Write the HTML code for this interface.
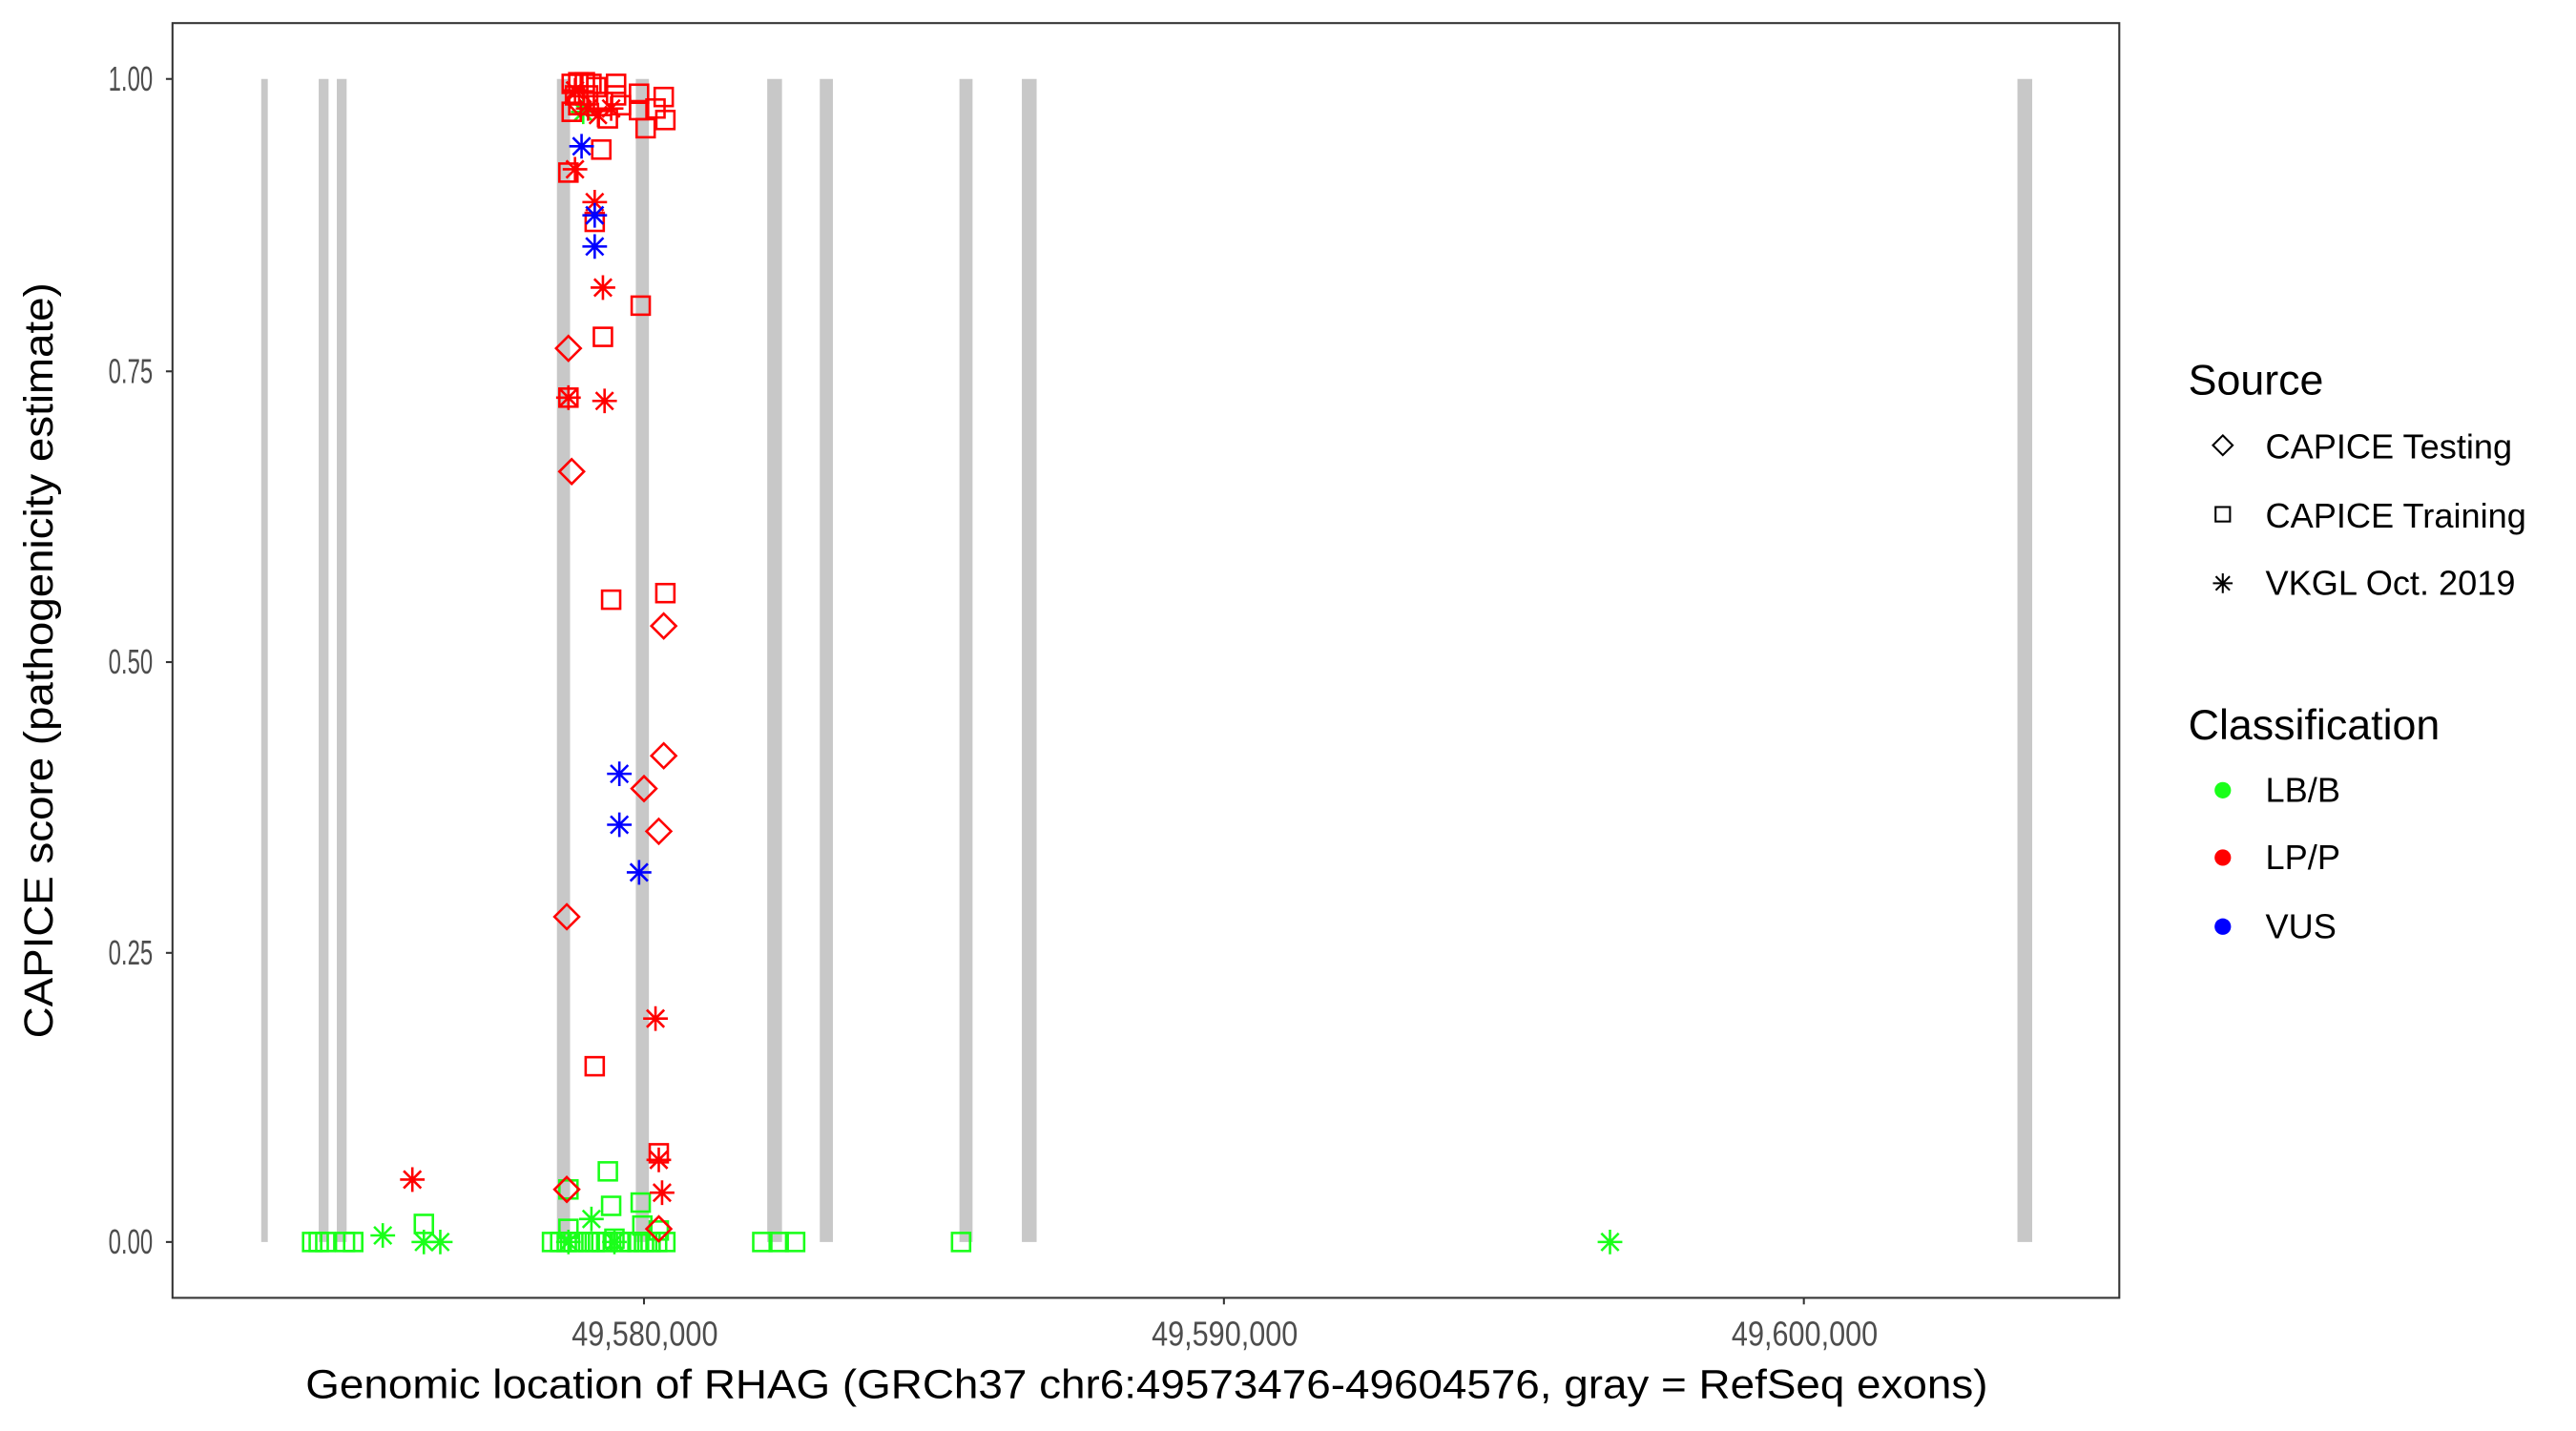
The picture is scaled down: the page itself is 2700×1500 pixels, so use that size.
<!DOCTYPE html>
<html><head><meta charset="utf-8"><style>
html,body{margin:0;padding:0;background:#fff}
svg{display:block}
text{font-family:"Liberation Sans",Arial,sans-serif}
</style></head><body>
<svg width="2700" height="1500" viewBox="0 0 1568 871" xmlns="http://www.w3.org/2000/svg">
<defs>
<g id="sq"><rect x="-5.5" y="-5.5" width="11" height="11" fill="none" stroke-width="1.5"/></g>
<g id="di"><path d="M0,-7.5 L7.5,0 L0,7.5 L-7.5,0 Z" fill="none" stroke-width="1.5"/></g>
<g id="st" stroke-width="1.5"><path d="M0,-7.5V7.5M-7.5,0H7.5M-5.3,-5.3L5.3,5.3M-5.3,5.3L5.3,-5.3"/></g>
</defs>
<rect x="0" y="0" width="1568" height="871" fill="#fff"/>
<g fill="#c8c8c8">
<rect x="159" y="48" width="4" height="708"/>
<rect x="194" y="48" width="6" height="708"/>
<rect x="205" y="48" width="6" height="708"/>
<rect x="339" y="48" width="8" height="708"/>
<rect x="387" y="48" width="8" height="708"/>
<rect x="467" y="48" width="9" height="708"/>
<rect x="499" y="48" width="8" height="708"/>
<rect x="584" y="48" width="8" height="708"/>
<rect x="622" y="48" width="9" height="708"/>
<rect x="1228" y="48" width="9" height="708"/>
</g>
<g stroke="#1aff1a">
<use href="#sq" x="190" y="756"/><use href="#sq" x="194" y="756"/><use href="#sq" x="198" y="756"/><use href="#sq" x="210" y="756"/><use href="#sq" x="215" y="756"/><use href="#sq" x="258" y="745"/>
<use href="#sq" x="336" y="756"/><use href="#sq" x="341" y="756"/><use href="#sq" x="345" y="756"/><use href="#sq" x="349" y="756"/><use href="#sq" x="353" y="756"/><use href="#sq" x="358" y="756"/><use href="#sq" x="362" y="756"/><use href="#sq" x="366" y="756"/><use href="#sq" x="370" y="756"/><use href="#sq" x="374" y="754"/><use href="#sq" x="378" y="756"/><use href="#sq" x="383" y="756"/><use href="#sq" x="388" y="756"/><use href="#sq" x="392" y="756"/><use href="#sq" x="396" y="756"/><use href="#sq" x="400" y="756"/><use href="#sq" x="405" y="756"/>
<use href="#sq" x="346" y="748"/><use href="#sq" x="346" y="724"/><use href="#sq" x="370" y="713"/><use href="#sq" x="372" y="734"/><use href="#sq" x="390" y="732"/><use href="#sq" x="391" y="746"/><use href="#sq" x="401" y="749"/>
<use href="#sq" x="464" y="756"/><use href="#sq" x="474" y="756"/><use href="#sq" x="484" y="756"/><use href="#sq" x="585" y="756"/>
<use href="#st" x="233" y="752"/><use href="#st" x="258" y="756"/><use href="#st" x="268" y="756"/><use href="#st" x="360" y="742"/><use href="#st" x="346" y="756"/><use href="#st" x="374" y="756"/><use href="#st" x="980" y="756"/><use href="#st" x="355" y="68"/>
</g>
<g stroke="#ff0000">
<use href="#sq" x="348" y="51"/><use href="#sq" x="352" y="50"/><use href="#sq" x="356" y="50"/><use href="#sq" x="360" y="51"/><use href="#sq" x="363" y="53"/><use href="#sq" x="375" y="51"/><use href="#sq" x="375" y="58"/><use href="#sq" x="389" y="57"/><use href="#sq" x="404" y="59"/><use href="#sq" x="399" y="66"/><use href="#sq" x="405" y="73"/><use href="#sq" x="393" y="78"/><use href="#sq" x="389" y="67"/><use href="#sq" x="378" y="64"/><use href="#sq" x="370" y="72"/><use href="#sq" x="367" y="62"/><use href="#sq" x="352" y="64"/><use href="#sq" x="348" y="68"/><use href="#sq" x="358" y="58"/><use href="#sq" x="350" y="58"/>
<use href="#sq" x="366" y="91"/><use href="#sq" x="346" y="105"/><use href="#sq" x="362" y="135"/><use href="#sq" x="390" y="186"/><use href="#sq" x="367" y="205"/><use href="#sq" x="346" y="242"/><use href="#sq" x="372" y="365"/><use href="#sq" x="405" y="361"/><use href="#sq" x="362" y="649"/><use href="#sq" x="401" y="702"/>
<use href="#di" x="346" y="212"/><use href="#di" x="348" y="287"/><use href="#di" x="404" y="381"/><use href="#di" x="404" y="460"/><use href="#di" x="392" y="480"/><use href="#di" x="401" y="506"/><use href="#di" x="345" y="558"/><use href="#di" x="345" y="724"/><use href="#di" x="401" y="748"/><use href="#di" x="352" y="62"/>
<use href="#st" x="350" y="103"/><use href="#st" x="362" y="123"/><use href="#st" x="367" y="175"/><use href="#st" x="346" y="242"/><use href="#st" x="368" y="244"/><use href="#st" x="251" y="718"/><use href="#st" x="399" y="620"/><use href="#st" x="401" y="706"/><use href="#st" x="403" y="726"/><use href="#st" x="358" y="66"/><use href="#st" x="372" y="66"/><use href="#st" x="350" y="55"/><use href="#st" x="364" y="70"/>
</g>
<g stroke="#0000ff">
<use href="#st" x="354" y="89"/><use href="#st" x="362" y="131"/><use href="#st" x="362" y="150"/><use href="#st" x="377" y="471"/><use href="#st" x="377" y="502"/><use href="#st" x="389" y="531"/>
</g>
<rect x="105" y="14" width="1185" height="776" fill="none" stroke="#333" stroke-width="1.2"/>
<g stroke="#333" stroke-width="1.2">
<line x1="101" y1="48" x2="105" y2="48"/><line x1="101" y1="226" x2="105" y2="226"/><line x1="101" y1="403" x2="105" y2="403"/><line x1="101" y1="580" x2="105" y2="580"/><line x1="101" y1="756" x2="105" y2="756"/>
<line x1="392" y1="790" x2="392" y2="794"/><line x1="745" y1="790" x2="745" y2="794"/><line x1="1098" y1="790" x2="1098" y2="794"/>
</g>
<g font-size="21" fill="#4d4d4d" text-anchor="end">
<text x="93" y="55" textLength="27" lengthAdjust="spacingAndGlyphs">1.00</text><text x="93" y="233" textLength="27" lengthAdjust="spacingAndGlyphs">0.75</text><text x="93" y="410" textLength="27" lengthAdjust="spacingAndGlyphs">0.50</text><text x="93" y="587" textLength="27" lengthAdjust="spacingAndGlyphs">0.25</text><text x="93" y="763" textLength="27" lengthAdjust="spacingAndGlyphs">0.00</text>
</g>
<g font-size="21" fill="#4d4d4d">
<text x="348" y="819" textLength="89" lengthAdjust="spacingAndGlyphs">49,580,000</text><text x="701" y="819" textLength="89" lengthAdjust="spacingAndGlyphs">49,590,000</text><text x="1054" y="819" textLength="89" lengthAdjust="spacingAndGlyphs">49,600,000</text>
</g>
<text x="698" y="851" font-size="25" text-anchor="middle" fill="#000" textLength="1024" lengthAdjust="spacingAndGlyphs">Genomic location of RHAG (GRCh37 chr6:49573476-49604576, gray = RefSeq exons)</text>
<text transform="translate(32,402) rotate(-90)" font-size="25" text-anchor="middle" fill="#000" textLength="460" lengthAdjust="spacingAndGlyphs">CAPICE score (pathogenicity estimate)</text>
<text x="1332" y="240" font-size="26" fill="#000">Source</text>
<g stroke="#000" transform="translate(1353,271) scale(0.8)"><use href="#di"/></g>
<g stroke="#000" transform="translate(1353,313) scale(0.8)"><use href="#sq"/></g>
<g stroke="#000" transform="translate(1353,355) scale(0.8)"><use href="#st"/></g>
<g font-size="21" fill="#000">
<text x="1379" y="279">CAPICE Testing</text><text x="1379" y="321">CAPICE Training</text><text x="1379" y="362">VKGL Oct. 2019</text>
</g>
<text x="1332" y="450" font-size="26" fill="#000">Classification</text>
<circle cx="1353" cy="481" r="5" fill="#1aff1a"/><circle cx="1353" cy="522" r="5" fill="#ff0000"/><circle cx="1353" cy="564" r="5" fill="#0000ff"/>
<g font-size="21" fill="#000">
<text x="1379" y="488">LB/B</text><text x="1379" y="529">LP/P</text><text x="1379" y="571">VUS</text>
</g>
</svg>
</body></html>
